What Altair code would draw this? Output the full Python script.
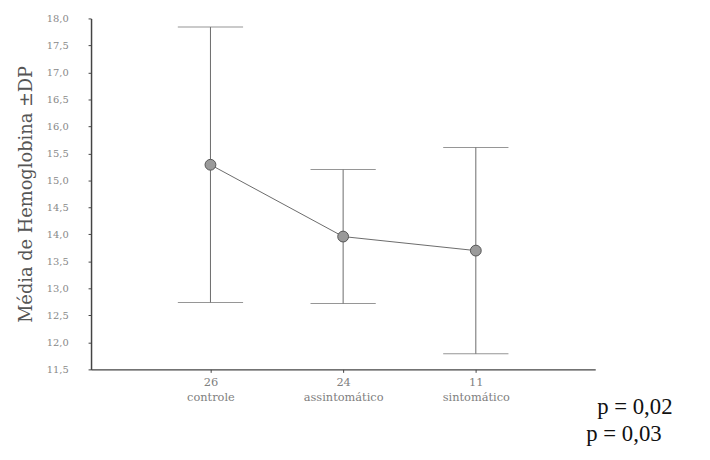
import altair as alt
import pandas as pd

# data
groups = ["controle", "assintomático", "sintomático"]
n_values = ["26", "24", "11"]
means = [15.29, 13.96, 13.70]
sds = [2.55, 1.24, 1.91]
y_ticks = [11.5, 12.0, 12.5, 13.0, 13.5, 14.0, 14.5, 15.0, 15.5, 16.0, 16.5, 17.0, 17.5, 18.0]
p_texts = ["p = 0,02", "p = 0,03"]

df = pd.DataFrame({
    "label": [f"{n}|{g}" for n, g in zip(n_values, groups)],
    "mean": means,
    "lo": [m - s for m, s in zip(means, sds)],
    "hi": [m + s for m, s in zip(means, sds)],
})

GREY = "#6a6a6a"
DARK = "#444444"

x = alt.X(
    "label:N",
    sort=None,
    scale=alt.Scale(type="point", padding=0.9),
    axis=alt.Axis(
        title=None,
        labelExpr="split(datum.label, '|')",
        labelAngle=0,
        labelFont="DejaVu Serif",
        labelFontSize=11.5,
        labelColor="#808080",
        labelLineHeight=15,
        labelPadding=4,
        labelOverlap=False,
        tickSize=3,
        tickColor=DARK,
        domainColor=DARK,
        domainWidth=1.5,
    ),
)

y_axis = alt.Axis(
    title="Média de Hemoglobina ±DP",
    titleFont="DejaVu Serif",
    titleFontSize=18,
    titleFontWeight="normal",
    titleColor="#555555",
    titlePadding=11,
    values=y_ticks,
    labelExpr="replace(format(datum.value, '.1f'), '.', ',')",
    labelFont="DejaVu Serif",
    labelFontSize=10,
    labelColor="#888888",
    labelPadding=20,
    labelOverlap=False,
    labelFlush=False,
    tickSize=3,
    tickColor=DARK,
    domainColor=DARK,
    domainWidth=1.5,
    grid=False,
)
y_scale = alt.Scale(domain=[11.5, 18.0], nice=False, zero=False)


def ydef(field):
    return alt.Y(f"{field}:Q", scale=y_scale, axis=y_axis)


base = alt.Chart(df)

rules = base.mark_rule(color=GREY, strokeWidth=1).encode(
    x=x, y=ydef("lo"), y2="hi:Q"
)
cap_hi = base.mark_tick(color=GREY, size=66, thickness=1).encode(x=x, y=ydef("hi"))
cap_lo = base.mark_tick(color=GREY, size=66, thickness=1).encode(x=x, y=ydef("lo"))
line = base.mark_line(color=GREY, strokeWidth=1).encode(x=x, y=ydef("mean"))
points = base.mark_point(
    shape="circle", filled=True, size=120, color="#9a9a9a",
    stroke="#555555", strokeWidth=1, opacity=1
).encode(x=x, y=ydef("mean"))

pdf = pd.DataFrame({"p": p_texts})
ptext1 = alt.Chart(pdf.iloc[[0]]).mark_text(
    font="Liberation Serif", fontSize=23, align="left", baseline="alphabetic", color="#111111"
).encode(text="p:N", x=alt.value(512), y=alt.value(400))
ptext2 = alt.Chart(pdf.iloc[[1]]).mark_text(
    font="Liberation Serif", fontSize=23, align="left", baseline="alphabetic", color="#111111"
).encode(text="p:N", x=alt.value(501), y=alt.value(427))

chart = alt.layer(rules, cap_hi, cap_lo, line, points, ptext1, ptext2).properties(
    width=510,
    height=355,
    autosize=alt.AutoSizeParams(type="none"),
    padding={"left": 84, "top": 8, "right": 108, "bottom": 80},
).configure_view(strokeWidth=0)

chart.save("out.html", embed_options={"renderer": "svg", "actions": False})
